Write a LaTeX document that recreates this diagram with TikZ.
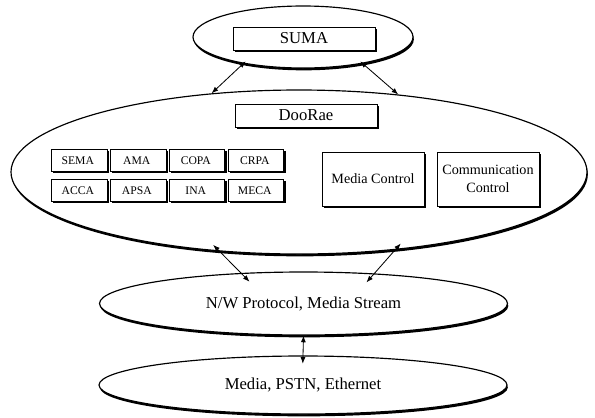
\documentclass[tikz,border=0pt]{standalone}
\usepackage{fontspec}
\setmainfont{Liberation Serif}
\usetikzlibrary{matrix, positioning, shapes.geometric, shadows, arrows.meta}

\begin{document}
\begin{tikzpicture}[x=0.6pt, y=-0.6pt, align=center,
		font=\fontsize{10}{12}\selectfont,
		>={Latex[length=4pt, width=3pt]},
		layer/.style={ellipse, draw, fill=white, line width=0.7pt, inner sep=0pt,
			drop shadow={shadow xshift=0.5pt, shadow yshift=-1.4pt, opacity=1, fill=black}},
		namebox/.style={draw, fill=white, line width=0.6pt, inner sep=0pt,
			minimum width=85.2pt, minimum height=13.8pt,
			drop shadow={shadow xshift=1.1pt, shadow yshift=-1.1pt, opacity=1, fill=black}},
		agentbox/.style={draw, fill=white, line width=0.6pt, inner sep=0pt,
			minimum width=33.3pt, minimum height=13.2pt,
			font=\fontsize{7}{8}\selectfont,
			drop shadow={shadow xshift=1pt, shadow yshift=-1pt, opacity=1, fill=black}},
		ctrlbox/.style={draw, fill=white, line width=0.6pt, inner sep=0pt,
			minimum width=61.2pt, minimum height=32.4pt,
			font=\fontsize{8.5}{11}\selectfont,
			drop shadow={shadow xshift=1.1pt, shadow yshift=-1.1pt, opacity=1, fill=black}},
		link/.style={<->, line width=0.5pt}
	]
			\useasboundingbox (0,0) rectangle (595,417);

			% layers
			\node[layer, minimum width=132pt, minimum height=37.2pt] (suma-layer) at (303,37) {};
			\node[layer, minimum width=345.6pt, minimum height=98.4pt] (doorae-layer) at (299,172) {};
			\node[layer, minimum width=244.8pt, minimum height=37.8pt] (nw-layer) at (303.5,303.5) {N/W Protocol, Media Stream};
			\node[layer, minimum width=244.8pt, minimum height=34.8pt] (base-layer) at (303,385) {\raisebox{-3pt}{Media, PSTN, Ethernet}};

			\node[namebox] (suma) at (304,38.5) {SUMA};
			\node[namebox] (doorae) at (306,115.5) {DooRae};

			\matrix (agents) at (167.75,175.5) [%
				matrix of nodes,
				nodes = agentbox,
				row sep = 4.2pt,
				column sep = 1.5pt,
				ampersand replacement=\&
			] {
				SEMA \& AMA  \& COPA \& CRPA \\
				ACCA \& APSA \& INA  \& MECA \\
			};

			\node[ctrlbox] (mediactl) at (373,179) {Media Control};
			\node[ctrlbox, right=7.2pt of mediactl] (commctl) {Communication\\Control};

			% connectors
			\draw[link, shorten <=-2pt] (suma-layer.204) -- (doorae-layer.138);
			\draw[link, shorten <=-2pt] (suma-layer.336) -- (doorae-layer.38);
			\draw[link, shorten <=-5.5pt, shorten >=-7.4pt] (doorae-layer.225) -- (nw-layer.154.4);
			\draw[link, shorten <=-5.1pt, shorten >=-7.2pt] (doorae-layer.321.5) -- (nw-layer.23.9);
			\draw[link, shorten >=-5pt] (nw-layer.south) -- (base-layer.north);
		\end{tikzpicture}
\end{document}
